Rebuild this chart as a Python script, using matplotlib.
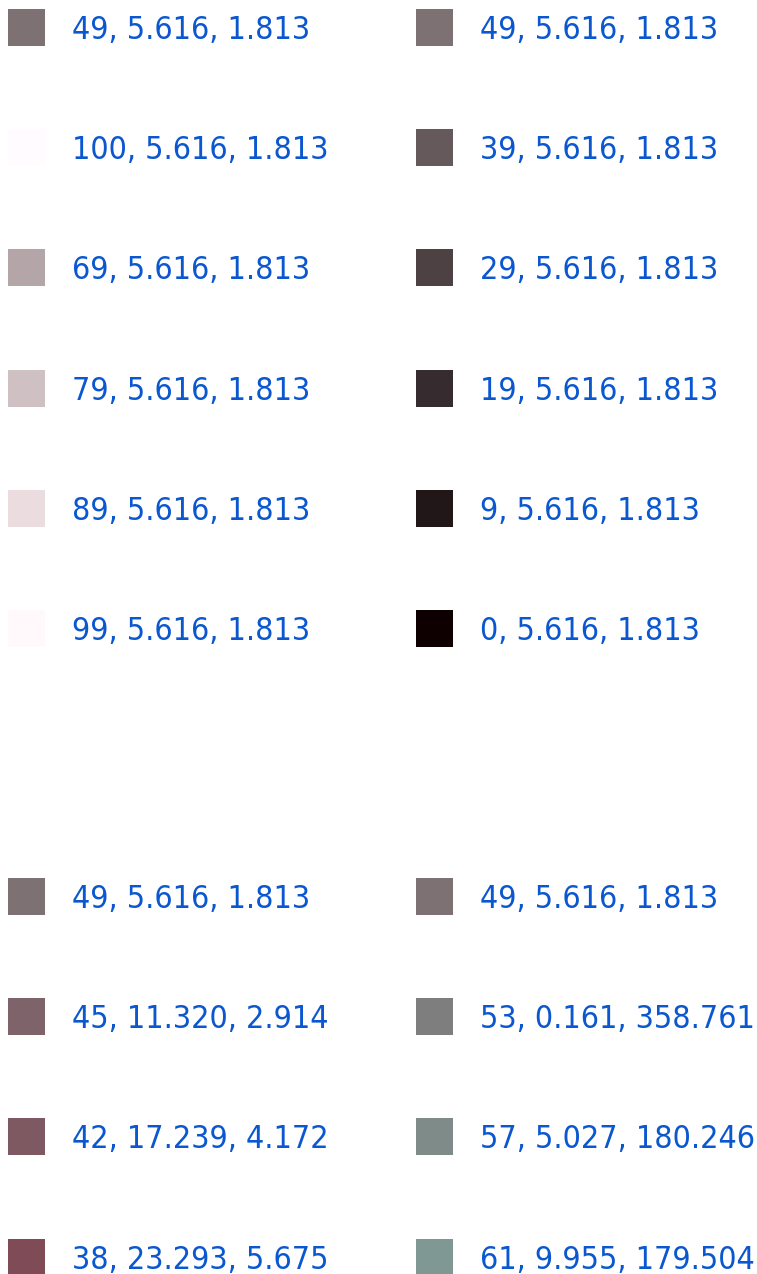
import numpy as np
import matplotlib
matplotlib.use("Agg")
import matplotlib.pyplot as plt
from matplotlib.patches import Rectangle

# LCh values (lightness, chroma, hue) for each swatch
top_left_L = [49, 100, 69, 79, 89, 99]
top_left_C = [5.616] * 6
top_left_H = [1.813] * 6

top_right_L = [49, 39, 29, 19, 9, 0]
top_right_C = [5.616] * 6
top_right_H = [1.813] * 6

bottom_left_L = [49, 45, 42, 38]
bottom_left_C = [5.616, 11.320, 17.239, 23.293]
bottom_left_H = [1.813, 2.914, 4.172, 5.675]

bottom_right_L = [49, 53, 57, 61]
bottom_right_C = [5.616, 0.161, 5.027, 9.955]
bottom_right_H = [1.813, 358.761, 180.246, 179.504]


def lch_to_rgb(L, C, H):
    # CIE LCh -> Lab -> XYZ (D65) -> sRGB
    h = np.radians(H)
    a = C * np.cos(h)
    b = C * np.sin(h)
    fy = (L + 16) / 116
    fx = fy + a / 500
    fz = fy - b / 200
    eps = 6 / 29

    def finv(t):
        return t ** 3 if t > eps else 3 * eps ** 2 * (t - 4 / 29)

    X = 0.95047 * finv(fx)
    Y = 1.00000 * finv(fy)
    Z = 1.08883 * finv(fz)
    M = np.array([[3.2404542, -1.5371385, -0.4985314],
                  [-0.9692660, 1.8760108, 0.0415560],
                  [0.0556434, -0.2040259, 1.0572252]])
    lin = M @ np.array([X, Y, Z])
    rgb = np.where(lin <= 0.0031308, 12.92 * lin,
                   1.055 * np.abs(lin) ** (1 / 2.4) - 0.055)
    return tuple(np.clip(rgb, 0, 1))


fig = plt.figure(figsize=(7.57, 12.74), dpi=100)
ax = fig.add_axes([0, 0, 1, 1])
ax.set_xlim(0, 757)
ax.set_ylim(1274, 0)
ax.axis("off")

size = 37
step = 120.2
text_color = "#0b57d0"


def draw_column(x0, y0, Ls, Cs, Hs):
    for i, (L, C, H) in enumerate(zip(Ls, Cs, Hs)):
        yc = y0 + i * step
        ax.add_patch(Rectangle((x0, yc - size / 2), size, size,
                               color=lch_to_rgb(L, C, H), lw=0))
        ax.text(x0 + 64, yc - 0.5, f"{L}, {C:.3f}, {H:.3f}", color=text_color,
                family="DejaVu Sans", fontstretch="condensed",
                fontsize=23, va="center_baseline", ha="left")


draw_column(8, 27.5, top_left_L, top_left_C, top_left_H)
draw_column(416, 27.5, top_right_L, top_right_C, top_right_H)
draw_column(8, 896.5, bottom_left_L, bottom_left_C, bottom_left_H)
draw_column(416, 896.5, bottom_right_L, bottom_right_C, bottom_right_H)

fig.savefig("out.png", dpi=100)
